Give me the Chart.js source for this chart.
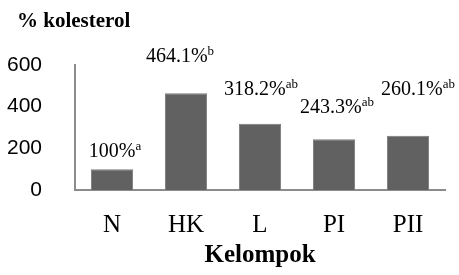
<!DOCTYPE html>
<html>
<head>
<meta charset="utf-8">
<script src="https://cdn.jsdelivr.net/npm/chart.js@4/dist/chart.umd.min.js"></script>
<style>
  html, body { margin: 0; padding: 0; background: #fff; }
  #wrap { width: 459px; height: 275px; }
</style>
</head>
<body>
<div id="wrap"><canvas id="chart" width="459" height="275"></canvas></div>
<script>
// data
const categories = ['N', 'HK', 'L', 'PI', 'PII'];
const kolesterol = [100, 464.1, 318.2, 243.3, 260.1];
const notasi = ['a', 'b', 'ab', 'ab', 'ab'];
const yTicks = [0, 200, 400, 600];

// geser label biar mirip gambar asli
const labelShift = [[3, -12], [-6, -31], [1, -29], [3, -26], [10, -41]];

const serif = '"Liberation Serif", "Times New Roman", serif';

const labelPlugin = {
  id: 'labelPlugin',
  afterDatasetsDraw(chart) {
    const ctx = chart.ctx;
    const meta = chart.getDatasetMeta(0);
    ctx.save();
    ctx.fillStyle = '#000';
    ctx.textBaseline = 'alphabetic';
    meta.data.forEach((bar, i) => {
      const main = kolesterol[i] + '%';
      ctx.font = '20px ' + serif;
      const w1 = ctx.measureText(main).width;
      ctx.font = '13px ' + serif;
      const w2 = ctx.measureText(notasi[i]).width;
      const x0 = bar.x + labelShift[i][0] - (w1 + w2) / 2;
      const y0 = bar.y + labelShift[i][1];
      ctx.textAlign = 'left';
      ctx.font = '20px ' + serif;
      ctx.fillText(main, x0, y0);
      ctx.font = '13px ' + serif;
      ctx.fillText(notasi[i], x0 + w1, y0 - 7);
    });
    // judul sumbu y di pojok kiri atas
    ctx.font = 'bold 21px ' + serif;
    ctx.fillText('% kolesterol', 17, 27);
    ctx.restore();
  }
};

const ctx = document.getElementById('chart').getContext('2d');
const chart = new Chart(ctx, {
  type: 'bar',
  data: {
    labels: categories,
    datasets: [{
      data: kolesterol,
      backgroundColor: '#616161',
      borderColor: '#7a7a7a',
      borderWidth: 1,
      categoryPercentage: 1,
      barPercentage: 0.57
    }]
  },
  options: {
    responsive: false,
    animation: false,
    layout: { padding: { top: 65, right: 14, left: 0, bottom: 0 } },
    plugins: {
      legend: { display: false },
      tooltip: { enabled: false }
    },
    scales: {
      x: {
        grid: { display: false },
        border: { display: true, color: '#8c8c8c', width: 2 },
        ticks: { color: '#000', font: { family: serif, size: 25 }, padding: 12 },
        title: {
          display: true,
          text: 'Kelompok',
          color: '#000',
          font: { family: serif, size: 25, weight: 'bold' },
          padding: { top: 0, bottom: 4 }
        },
        afterFit(scale) { scale.height = 85; }
      },
      y: {
        min: 0,
        max: 600,
        grid: { display: false },
        border: { display: true, color: '#8c8c8c', width: 2 },
        afterBuildTicks(scale) { scale.ticks = yTicks.map(v => ({ value: v })); },
        ticks: {
          color: '#000',
          font: { family: '"Liberation Sans", Arial, sans-serif', size: 21 },
          padding: 25
        },
        afterFit(scale) { scale.width = 75; }
      }
    }
  },
  plugins: [labelPlugin]
});
</script>
</body>
</html>
